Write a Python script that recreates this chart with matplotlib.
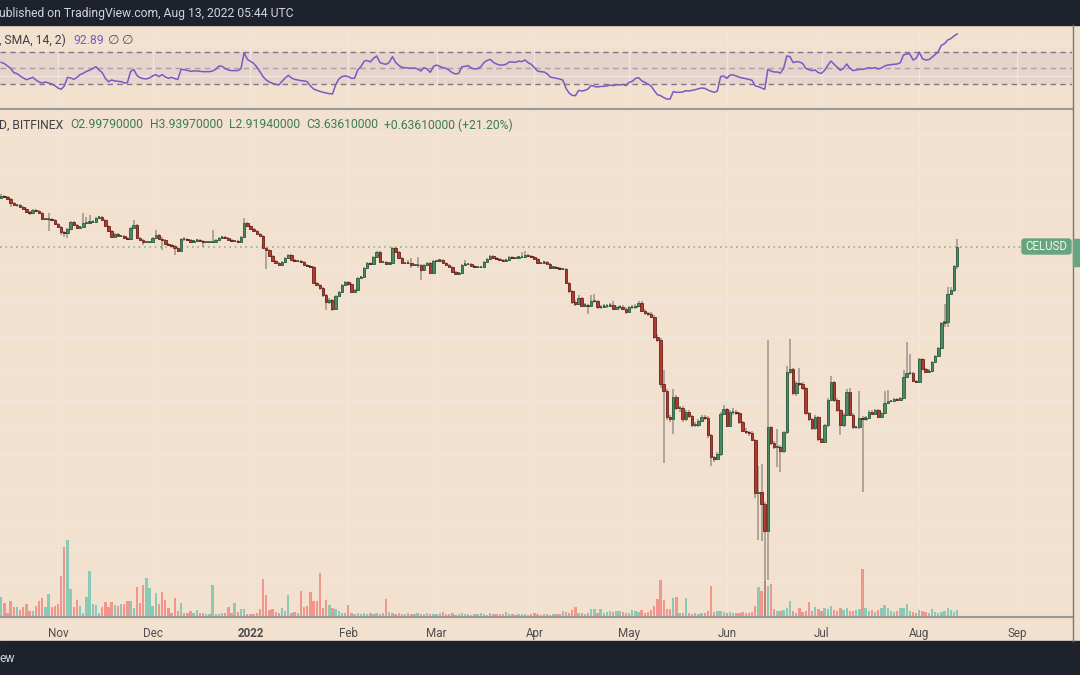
import matplotlib
matplotlib.use("Agg")
import matplotlib.pyplot as plt
import matplotlib.dates as mdates
from matplotlib.lines import Line2D
from matplotlib.patches import Rectangle, FancyBboxPatch
from matplotlib.ticker import NullLocator
from matplotlib.transforms import blended_transform_factory
import numpy as np
import pandas as pd

plt.rcParams["font.family"] = ["Roboto", "DejaVu Sans"]

W, H = 1080, 675
BG = "#f3e1cf"
GRID = "#efe6dd"
DARK = "#1e222d"
UP, UP_EDGE = "#4b8b64", "#2a5b3d"
DOWN, DOWN_EDGE = "#b23b2c", "#6c2118"
WICK = "#8e8680"
VOL_UP, VOL_DOWN = "#8bc9b7", "#f2968d"
PURPLE = "#7e57c2"
GREEN_TXT = "#3a7d55"

# CEL/USD daily candles, Bitfinex, 14 Oct 2021 - 13 Aug 2022
days = pd.date_range("2021-10-14", "2022-08-13", freq="D")
first_open = 5.95
closes = [
    6.06, 5.99, 5.88, 5.64, 5.53, 5.53, 5.42, 5.32, 5.16, 5.11,
    5.26, 5.21, 5.11, 4.81, 4.81, 4.81, 4.76, 4.58, 4.44, 4.22,
    4.18, 4.35, 4.67, 4.53, 4.40, 4.44, 4.62, 4.62, 4.67, 4.68,
    4.86, 4.91, 4.76, 4.49, 4.27, 4.02, 4.14, 4.06, 4.06, 3.98,
    3.94, 4.40, 4.53, 3.98, 3.90, 3.82, 3.82, 3.82, 3.98, 4.10,
    3.94, 3.90, 3.75, 3.71, 3.67, 3.60, 3.49, 3.94, 3.94, 3.90,
    3.82, 3.86, 3.90, 3.86, 3.82, 3.82, 3.82, 3.83, 3.90, 3.98,
    4.02, 3.98, 3.90, 3.86, 3.86, 3.82, 4.02, 4.62, 4.49, 4.35,
    4.27, 4.14, 4.06, 3.60, 3.53, 3.32, 3.16, 3.10, 3.04, 3.13,
    3.26, 3.36, 3.19, 3.16, 3.16, 3.13, 3.04, 3.01, 2.98, 2.54,
    2.49, 2.41, 2.25, 2.10, 2.14, 1.96, 2.23, 2.32, 2.49, 2.56,
    2.51, 2.32, 2.37, 2.67, 2.69, 2.95, 3.10, 3.07, 3.29, 3.46,
    3.13, 3.13, 3.07, 3.10, 3.60, 3.46, 3.26, 3.10, 3.11, 3.10,
    3.04, 3.04, 3.04, 2.89, 3.04, 3.10, 2.80, 3.16, 3.16, 3.19,
    3.10, 3.04, 2.98, 2.83, 2.78, 2.80, 3.04, 3.07, 3.07, 3.01,
    2.98, 2.98, 2.98, 3.13, 3.23, 3.32, 3.26, 3.23, 3.19, 3.16,
    3.19, 3.29, 3.26, 3.26, 3.29, 3.29, 3.36, 3.32, 3.29, 3.23,
    3.10, 3.10, 3.13, 3.07, 2.95, 2.98, 2.95, 2.92, 2.92, 2.54,
    2.34, 2.10, 2.06, 2.18, 2.02, 2.04, 2.02, 2.12, 2.12, 1.99,
    2.00, 2.02, 2.02, 2.04, 1.96, 1.99, 2.00, 1.96, 1.90, 1.99,
    1.99, 2.02, 2.08, 1.92, 1.88, 1.86, 1.81, 1.48, 1.435, 0.924,
    0.861, 0.664, 0.651, 0.811, 0.726, 0.726, 0.651, 0.698, 0.671, 0.613,
    0.613, 0.639, 0.664, 0.658, 0.554, 0.446, 0.437, 0.459, 0.684, 0.719,
    0.608, 0.698, 0.698, 0.691, 0.632, 0.577, 0.571, 0.566, 0.528, 0.310,
    0.314, 0.279, 0.213, 0.601, 0.512, 0.492, 0.492, 0.473, 0.571, 1.042,
    1.074, 0.844, 0.933, 0.924, 0.888, 0.691, 0.651, 0.595, 0.664, 0.533,
    0.517, 0.613, 0.787, 0.943, 0.787, 0.712, 0.613, 0.677, 0.853, 0.677,
    0.601, 0.601, 0.658, 0.651, 0.658, 0.698, 0.684, 0.712, 0.664, 0.691,
    0.763, 0.779, 0.779, 0.795, 0.787, 0.803, 0.991, 1.031, 1.031, 0.952,
    0.943, 1.187, 1.074, 1.042, 1.052, 1.152, 1.223, 1.325, 1.700, 1.717,
    2.273, 2.365, 2.9979, 3.6361,
]
highs = [
    6.15, 6.12, 6.03, 5.92, 5.68, 5.60, 5.57, 5.46, 5.35, 5.20,
    5.30, 5.30, 5.24, 5.14, 4.86, 5.11, 4.85, 4.79, 4.61, 4.47,
    4.28, 4.38, 4.72, 4.71, 4.56, 4.48, 5.11, 4.91, 5.01, 4.75,
    4.90, 4.96, 4.95, 4.79, 4.52, 4.30, 4.17, 4.17, 4.10, 4.09,
    4.01, 4.44, 4.76, 4.56, 4.01, 3.93, 3.86, 3.86, 4.01, 4.31,
    4.13, 4.00, 3.93, 3.78, 3.74, 3.70, 3.63, 3.98, 4.02, 3.97,
    3.93, 3.89, 3.93, 3.93, 3.89, 3.86, 3.86, 4.31, 3.93, 4.01,
    4.06, 4.05, 4.01, 3.93, 3.90, 3.89, 4.06, 4.86, 4.67, 4.52,
    4.38, 4.30, 4.17, 4.09, 3.63, 3.56, 3.35, 3.19, 3.13, 3.16,
    3.29, 3.40, 3.40, 3.22, 3.19, 3.19, 3.16, 3.07, 3.04, 3.01,
    2.57, 2.52, 2.44, 2.28, 2.18, 2.17, 2.26, 2.35, 2.52, 2.60,
    2.60, 2.54, 2.40, 2.70, 2.73, 2.98, 3.13, 3.13, 3.32, 3.50,
    3.49, 3.17, 3.16, 3.13, 3.64, 3.63, 3.49, 3.29, 3.14, 3.19,
    3.26, 3.08, 3.29, 3.07, 3.07, 3.13, 3.13, 3.19, 3.20, 3.23,
    3.22, 3.13, 3.07, 3.01, 2.86, 2.84, 3.07, 3.19, 3.11, 3.10,
    3.04, 3.02, 3.02, 3.16, 3.26, 3.36, 3.36, 3.29, 3.26, 3.23,
    3.23, 3.32, 3.32, 3.30, 3.32, 3.46, 3.49, 3.39, 3.35, 3.32,
    3.26, 3.14, 3.16, 3.16, 3.10, 3.01, 3.01, 2.98, 2.96, 2.95,
    2.57, 2.37, 2.14, 2.25, 2.21, 2.08, 2.06, 2.25, 2.27, 2.15,
    2.04, 2.05, 2.06, 2.08, 2.12, 2.02, 2.04, 2.03, 1.99, 2.02,
    2.03, 2.06, 2.12, 2.11, 1.95, 1.90, 1.89, 1.84, 1.52, 1.46,
    1.063, 0.88, 0.68, 0.879, 0.83, 0.74, 0.74, 0.71, 0.71, 0.68,
    0.63, 0.65, 0.68, 0.68, 0.67, 0.56, 0.45, 0.47, 0.70, 0.749,
    0.73, 0.71, 0.73, 0.71, 0.70, 0.64, 0.595, 0.58, 0.575, 0.535,
    0.405, 0.415, 0.285, 1.435, 0.61, 0.52, 0.59, 0.50, 0.58, 1.106,
    1.449, 1.08, 0.95, 1.085, 0.94, 0.90, 0.70, 0.66, 0.68, 0.67,
    0.54, 0.62, 0.80, 1.00, 0.95, 0.80, 0.72, 0.69, 0.88, 0.89,
    0.69, 0.61, 0.86, 0.67, 0.67, 0.71, 0.71, 0.72, 0.72, 0.70,
    0.86, 0.87, 0.79, 0.80, 0.80, 0.81, 1.063, 1.407, 1.246, 1.04,
    0.96, 1.20, 1.20, 1.08, 1.07, 1.165, 1.24, 1.34, 1.72, 2.05,
    2.44, 2.44, 3.04, 3.9397,
]
lows = [
    5.90, 5.95, 5.84, 5.42, 5.48, 5.45, 5.38, 5.27, 5.09, 5.01,
    5.08, 5.17, 5.06, 4.76, 4.74, 4.27, 4.70, 4.53, 4.39, 4.10,
    4.02, 3.98, 4.32, 4.49, 4.36, 4.37, 4.42, 4.57, 4.58, 4.62,
    4.65, 4.83, 4.72, 4.45, 4.23, 3.97, 3.99, 4.02, 4.01, 3.94,
    3.90, 3.91, 4.37, 3.94, 3.86, 3.71, 3.78, 3.78, 3.79, 3.95,
    3.90, 3.53, 3.71, 3.67, 3.63, 3.36, 3.45, 3.46, 3.88, 3.86,
    3.78, 3.79, 3.83, 3.83, 3.64, 3.78, 3.78, 3.79, 3.80, 3.87,
    3.95, 3.94, 3.86, 3.83, 3.82, 3.78, 3.79, 3.98, 4.44, 4.31,
    4.23, 4.10, 4.02, 3.56, 2.92, 3.28, 3.12, 3.06, 3.00, 3.01,
    3.10, 3.23, 3.16, 3.13, 3.12, 3.10, 3.01, 2.98, 2.95, 2.50,
    2.45, 2.37, 2.21, 1.94, 2.06, 1.92, 1.94, 2.20, 2.29, 2.46,
    2.47, 2.29, 2.29, 2.34, 2.64, 2.66, 2.92, 3.03, 3.04, 3.26,
    3.10, 3.09, 3.03, 3.03, 3.07, 3.42, 3.22, 3.06, 3.07, 3.06,
    2.95, 3.00, 2.95, 2.61, 2.86, 3.01, 2.77, 2.77, 3.12, 3.13,
    3.07, 3.01, 2.95, 2.80, 2.75, 2.76, 2.77, 3.01, 3.03, 2.98,
    2.95, 2.94, 2.94, 2.95, 3.10, 3.20, 3.23, 3.19, 3.16, 3.13,
    3.13, 3.16, 3.23, 3.22, 3.22, 3.25, 3.26, 3.29, 3.26, 3.20,
    3.07, 3.06, 3.07, 3.04, 2.92, 2.92, 2.92, 2.89, 2.88, 2.50,
    2.30, 2.06, 2.02, 2.03, 1.99, 2.00, 1.86, 1.99, 2.08, 1.95,
    1.96, 1.97, 1.98, 1.99, 1.93, 1.93, 1.96, 1.93, 1.86, 1.87,
    1.95, 1.96, 1.99, 1.89, 1.85, 1.83, 1.78, 1.45, 1.40, 0.89,
    0.418, 0.645, 0.63, 0.560, 0.71, 0.70, 0.63, 0.64, 0.66, 0.60,
    0.60, 0.60, 0.63, 0.645, 0.54, 0.407, 0.425, 0.43, 0.45, 0.675,
    0.60, 0.60, 0.68, 0.68, 0.62, 0.57, 0.56, 0.55, 0.52, 0.295,
    0.194, 0.193, 0.090, 0.13, 0.50, 0.48, 0.404, 0.382, 0.465, 0.56,
    1.02, 0.83, 0.82, 0.91, 0.87, 0.68, 0.64, 0.585, 0.585, 0.52,
    0.51, 0.51, 0.60, 0.78, 0.77, 0.70, 0.554, 0.60, 0.67, 0.67,
    0.59, 0.59, 0.59, 0.314, 0.64, 0.65, 0.675, 0.675, 0.655, 0.655,
    0.685, 0.755, 0.77, 0.77, 0.78, 0.78, 0.80, 0.98, 1.01, 0.94,
    0.93, 0.935, 1.06, 1.03, 1.03, 1.04, 1.14, 1.21, 1.31, 1.64,
    1.63, 2.25, 2.33, 2.9194,
]
volumes = [
    19, 13, 3, 15, 9, 9, 6, 9, 12, 5,
    5, 10, 15, 18, 9, 22, 9, 10, 12, 40,
    69, 76, 27, 9, 16, 10, 3, 19, 45, 12,
    11, 3, 9, 14, 9, 14, 11, 10, 12, 12,
    15, 15, 8, 29, 13, 31, 38, 28, 10, 23,
    12, 24, 16, 8, 3, 18, 5, 13, 3, 3,
    5, 3, 6, 3, 3, 2, 2, 31, 2, 2,
    3, 3, 9, 3, 13, 4, 7, 7, 2, 2,
    2, 3, 7, 37, 21, 6, 7, 4, 3, 8,
    5, 21, 3, 4, 3, 25, 9, 10, 24, 15,
    15, 43, 8, 16, 11, 8, 7, 5, 3, 3,
    11, 3, 2, 3, 2, 3, 2, 3, 2, 3,
    2, 3, 17, 4, 3, 2, 3, 2, 2, 3,
    2, 2, 3, 2, 2, 3, 2, 2, 2, 3,
    4, 2, 2, 3, 1, 2, 3, 2, 2, 1,
    2, 2, 3, 2, 1, 3, 2, 2, 2, 2,
    4, 2, 2, 1, 2, 2, 2, 1, 2, 3,
    2, 1, 2, 2, 1, 2, 2, 2, 5, 4,
    3, 6, 9, 3, 3, 2, 3, 7, 7, 3,
    7, 3, 4, 5, 4, 5, 5, 4, 3, 3,
    6, 5, 4, 6, 3, 4, 6, 10, 17, 36,
    16, 7, 7, 18, 19, 3, 3, 18, 3, 2,
    3, 2, 3, 3, 5, 30, 4, 5, 5, 4,
    3, 4, 3, 3, 3, 4, 3, 3, 4, 10,
    29, 25, 35, 30, 32, 7, 5, 5, 6, 8,
    15, 5, 3, 8, 4, 5, 14, 5, 9, 7,
    5, 8, 7, 10, 6, 5, 8, 6, 8, 5,
    5, 6, 7, 47, 8, 5, 6, 4, 6, 8,
    11, 8, 5, 4, 5, 8, 8, 12, 5, 4,
    3, 6, 5, 4, 3, 7, 4, 3, 4, 5,
    8, 6, 4, 6,
]
rsi = [
    57.5, 55.8, 52.9, 50.0, 44.6, 43.3, 40.4, 37.9, 35.8, 37.1,
    38.7, 35.4, 32.9, 31.6, 32.9, 31.6, 30.4, 28.3, 25.4, 23.7,
    27.9, 38.7, 37.9, 36.2, 38.7, 42.1, 43.7, 46.2, 47.5, 49.6,
    52.1, 47.9, 44.6, 37.5, 33.3, 35.4, 34.2, 33.7, 33.3, 31.6,
    32.1, 45.8, 48.7, 41.2, 38.3, 37.1, 36.7, 37.9, 40.4, 42.1,
    39.6, 42.1, 39.2, 37.5, 38.7, 37.1, 36.2, 48.7, 48.3, 47.5,
    46.2, 46.7, 46.7, 46.2, 45.8, 45.8, 45.8, 46.7, 48.7, 52.9,
    52.5, 49.6, 47.9, 47.1, 47.1, 47.1, 49.6, 69.6, 61.2, 58.7,
    56.2, 51.7, 45.8, 39.6, 35.4, 32.9, 31.2, 30.0, 29.2, 33.7,
    37.9, 41.2, 37.9, 36.2, 35.4, 34.6, 34.2, 33.3, 27.9, 24.2,
    22.5, 21.2, 20.0, 19.2, 18.3, 17.9, 29.2, 36.7, 39.6, 40.4,
    39.6, 37.5, 37.5, 47.9, 52.0, 58.7, 59.9, 57.9, 62.4, 65.4,
    57.4, 55.8, 55.0, 57.4, 64.5, 57.4, 53.7, 51.2, 50.8, 50.4,
    50.0, 50.4, 49.1, 46.6, 50.8, 49.1, 45.0, 52.4, 54.1, 52.4,
    50.8, 50.0, 47.5, 44.5, 42.9, 43.7, 52.0, 52.4, 53.3, 50.4,
    49.1, 49.5, 52.0, 57.0, 59.9, 61.2, 57.4, 55.4, 54.1, 54.1,
    55.0, 57.9, 57.9, 57.4, 59.1, 58.3, 60.4, 57.0, 55.0, 50.8,
    46.6, 45.8, 45.4, 43.3, 39.1, 38.3, 37.4, 36.6, 35.4, 25.0,
    19.1, 16.2, 15.8, 22.4, 21.6, 22.4, 24.1, 28.7, 27.4, 26.6,
    27.4, 27.4, 27.9, 29.1, 28.3, 29.5, 29.1, 29.9, 28.3, 32.4,
    33.7, 37.4, 38.3, 34.5, 32.4, 30.4, 27.9, 22.0, 17.0, 15.8,
    13.3, 11.6, 11.6, 20.8, 20.0, 20.0, 20.4, 22.0, 21.6, 22.4,
    23.3, 24.5, 25.4, 24.9, 22.9, 21.2, 20.0, 21.6, 39.5, 40.4,
    37.4, 41.6, 41.6, 40.4, 38.7, 37.9, 37.1, 36.2, 35.0, 27.9,
    27.1, 25.4, 23.7, 48.7, 46.6, 45.4, 45.4, 44.1, 50.0, 65.4,
    64.6, 57.1, 58.3, 57.9, 56.2, 50.0, 48.3, 47.1, 47.9, 44.6,
    43.7, 47.5, 53.7, 59.1, 55.0, 51.2, 47.5, 50.0, 55.4, 50.0,
    47.1, 47.9, 48.7, 48.7, 49.6, 50.8, 50.0, 50.8, 49.1, 50.4,
    52.9, 54.1, 54.6, 55.0, 55.4, 57.1, 66.7, 67.9, 67.9, 60.4,
    62.5, 70.0, 62.1, 60.4, 60.8, 63.7, 67.1, 70.8, 78.7, 80.8,
    85.4, 87.1, 90.4, 92.89,
]
n = len(days)
assert len(closes) == n and len(highs) == n and len(lows) == n, (n, len(closes), len(highs), len(lows))
assert len(volumes) == n and len(rsi) == n, (n, len(volumes), len(rsi))

grid_prices = [11.1, 7.96, 5.74, 4.03, 2.96, 2.10, 1.49, 1.07, 0.787,
               0.595, 0.454, 0.322, 0.232, 0.176, 0.130]
rsi_grid = [80, 40]
month_ticks = pd.date_range("2021-11-01", "2022-09-01", freq="MS")
month_labels = ["Nov", "Dec", "2022", "Feb", "Mar", "Apr", "May", "Jun",
                "Jul", "Aug", "Sep"]

# candles open at the prior day's close
opens = [first_open] + closes[:-1]

x = mdates.date2num(days)
o = np.array(opens)
c = np.array(closes)
up = c >= o

# pixel layout of the screenshot
PX_DAY = 3.155
X0 = mdates.date2num(pd.Timestamp("2021-11-01")) - 58 / PX_DAY
X1 = X0 + 1072 / PX_DAY
REF_P, REF_Y, PX_LN = 3.6361, 247, 100.0


def rect(x0, y0, x1, y1):
    return [x0 / W, 1 - y1 / H, (x1 - x0) / W, (y1 - y0) / H]


def fig_xy(px, py):
    return px / W, 1 - py / H


fig = plt.figure(figsize=(W / 100, H / 100), dpi=100)
fig.patch.set_facecolor(BG)

# ---- main pane: volume underneath, candles above ----
ax_vol = fig.add_axes(rect(0, 110, 1072, 616))
ax = fig.add_axes(rect(0, 110, 1072, 616))
ax_vol.set_facecolor(BG)
ax.set_facecolor("none")

ax.set_yscale("log")
ax.set_ylim(REF_P * np.exp((REF_Y - 616) / PX_LN), REF_P * np.exp((REF_Y - 110) / PX_LN))
for a in (ax, ax_vol):
    a.set_xlim(X0, X1)
    for s in a.spines.values():
        s.set_visible(False)

ax_vol.set_ylim(0, max(volumes) / 0.15)
ax_vol.bar(x, volumes, width=0.75, color=np.where(up, VOL_UP, VOL_DOWN), zorder=2)
ax_vol.set_xticks(mdates.date2num(month_ticks))
ax_vol.tick_params(length=0, labelbottom=False, labelleft=False)
ax_vol.set_yticks([])
ax_vol.grid(axis="x", color=GRID, lw=1, zorder=0)
tr = blended_transform_factory(ax_vol.transAxes, ax.transData)
for p in grid_prices:
    ax_vol.plot([0, 1], [p, p], transform=tr, color=GRID, lw=1, zorder=0)

body_lo = np.minimum(o, c)
body_hi = np.maximum(o, c)
ax.vlines(x, lows, highs, color=WICK, lw=1.1, alpha=0.85, zorder=2)
ax.bar(x, body_hi - body_lo, bottom=body_lo, width=0.8,
       color=np.where(up, UP, DOWN), edgecolor=np.where(up, UP_EDGE, DOWN_EDGE),
       linewidth=0.6, zorder=3)
flat = (body_hi - body_lo) / body_lo < 0.012
ax.hlines(c[flat], x[flat] - 0.4, x[flat] + 0.4,
          color=np.where(up[flat], UP_EDGE, DOWN_EDGE), lw=1.1, zorder=3)

ax.axhline(closes[-1], color="#8db594", lw=1.2, ls=(0, (1, 2.2)), zorder=1)

ax.set_xticks(mdates.date2num(month_ticks))
ax.set_xticklabels(month_labels)
ax.set_yticks([])
ax.yaxis.set_minor_locator(NullLocator())
ax.tick_params(axis="x", length=0, pad=8, labelsize=8.4, labelcolor="#4e4e4e")
ax.get_xticklabels()[2].set_fontweight("bold")

# ---- RSI pane ----
ax_r = fig.add_axes(rect(0, 25, 1072, 108))
ax_r.set_facecolor(BG)
ax_r.set_xlim(X0, X1)
ax_r.set_ylim((108.3 - 108) / 0.8, (108.3 - 25) / 0.8)
for s in ax_r.spines.values():
    s.set_visible(False)
ax_r.set_xticks(mdates.date2num(month_ticks))
ax_r.set_yticks(rsi_grid)
ax_r.tick_params(length=0, labelbottom=False, labelleft=False)
ax_r.grid(color=GRID, lw=1, zorder=0)
ax_r.axhspan(30, 70, color="#e6d3cc", zorder=1, lw=0)
ax_r.axhline(70, color="#787b86", lw=1, ls=(0, (4, 3)), zorder=2)
ax_r.axhline(30, color="#787b86", lw=1, ls=(0, (4, 3)), zorder=2)
ax_r.axhline(50, color="#a4a3a8", lw=1, ls=(0, (4, 3)), zorder=2)
ax_r.plot(x, rsi, color=PURPLE, lw=1.1, zorder=3)

# ---- frame pieces of the screenshot ----
fig.add_artist(Rectangle((0, 1 - 25 / H), 1, 25 / H, transform=fig.transFigure,
                         color=DARK, zorder=5))
fig.add_artist(Rectangle((0, 0), 1, (H - 641) / H, transform=fig.transFigure,
                         color=DARK, zorder=5))
fig.add_artist(Line2D([0, 1072 / W], [1 - 109 / H] * 2, transform=fig.transFigure,
                      color="#9c9a98", lw=1.5, zorder=6))
fig.add_artist(Line2D([0, 1072 / W], [1 - 616.5 / H] * 2, transform=fig.transFigure,
                      color="#9c9a98", lw=1.5, zorder=6))
fig.add_artist(Line2D([1072.5 / W] * 2, [1 - 641 / H, 1 - 25 / H], transform=fig.transFigure,
                      color="#77777a", lw=1.0, zorder=6))

# last price tags
fig.add_artist(FancyBboxPatch(fig_xy(1022, 254), 49 / W, 15 / H,
                              boxstyle="round,pad=0,rounding_size=0.003",
                              transform=fig.transFigure, color="#67a57f", zorder=6))
fig.add_artist(Rectangle(fig_xy(1073, 266), 7 / W, 27 / H, transform=fig.transFigure,
                         color="#67a57f", zorder=6))
fig.text(*fig_xy(1046.5, 246.5), "CELUSD", color="#f4f4f4", fontsize=8.3,
         ha="center", va="center", zorder=7)

# header texts
fig.text(*fig_xy(-1, 13), "ublished on TradingView.com, Aug 13, 2022 05:44 UTC",
         color="#d1d4dc", fontsize=8.7, va="center", zorder=7)
fig.text(*fig_xy(0, 658), "ew", color="#d1d4dc", fontsize=8.7, va="center", zorder=7)

fig.text(*fig_xy(-1, 40), ", SMA, 14, 2)", color="#3f3f44", fontsize=8.7, va="center")
fig.text(*fig_xy(73, 40), "92.89", color=PURPLE, fontsize=8.7, va="center")
fig.text(*fig_xy(108, 40), "\u2205", color="#55555a", fontsize=9.5, va="center")
fig.text(*fig_xy(122, 40), "\u2205", color="#55555a", fontsize=9.5, va="center")

fig.text(*fig_xy(-1, 125), "D, BITFINEX", color="#3f3f44", fontsize=8.7, va="center")
for label, px in [("O2.99790000", 70), ("H3.93970000", 150), ("L2.91940000", 229),
                  ("C3.63610000", 306), ("+0.63610000 (+21.20%)", 384)]:
    fig.text(*fig_xy(px, 125), label, color=GREEN_TXT, fontsize=8.7, va="center")

fig.savefig("out.png", dpi=100, facecolor=BG)
